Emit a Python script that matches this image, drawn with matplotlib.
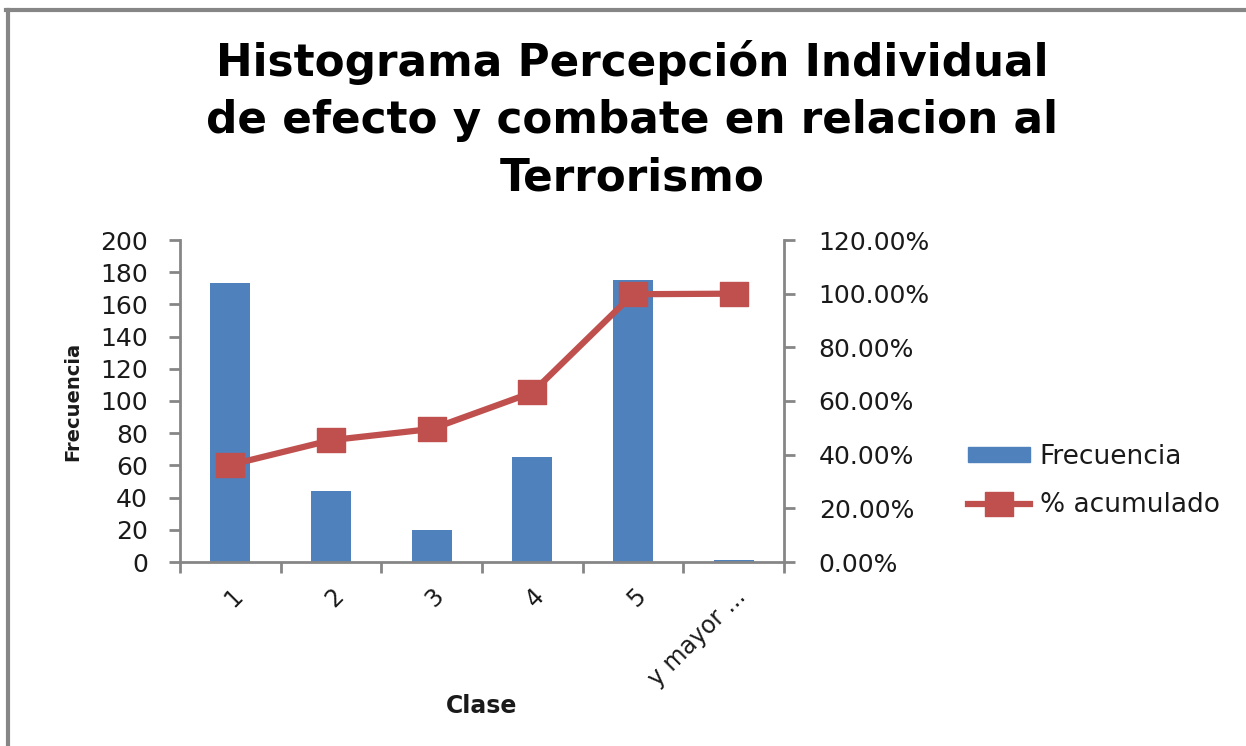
import numpy as np
import matplotlib.pyplot as plt
from matplotlib.lines import Line2D
from matplotlib.path import Path
from matplotlib.ticker import FuncFormatter

#%% data
clases = ['1', '2', '3', '4', '5', 'y mayor ...']
frecuencia = [173, 44, 20, 65, 175, 1]
acumulado = [0.3619, 0.4540, 0.4958, 0.6318, 0.9979, 1.0]

blue = '#4f81bd'
red = '#c0504d'
grey = '#868686'
txt = '#1a1a1a'

# slightly wide square marker, like the Excel one
box = Path([(-1.2, -1), (1.2, -1), (1.2, 1), (-1.2, 1), (-1.2, -1)],
           [Path.MOVETO, Path.LINETO, Path.LINETO, Path.LINETO, Path.CLOSEPOLY])

W, H = 1246, 746
fig = plt.figure(figsize=(W/100, H/100), dpi=100)
fig.set_facecolor('white')
ax = fig.add_axes([180/W, 1-562/H, (784-180)/W, (562-240)/H])
ax2 = ax.twinx()

x = np.arange(len(clases))
ax.bar(x, frecuencia, width=0.4, color=blue, zorder=2)
ax2.plot(x, acumulado, color=red, lw=4.5, marker=box, ms=20,
         mfc=red, mec=red, zorder=3)

ax.set_xlim(-0.5, len(clases)-0.5)
ax.set_ylim(0, 200)
ax.set_yticks(range(0, 201, 20))
ax2.set_ylim(0, 1.2)
ax2.set_yticks(np.arange(0, 1.21, 0.2))
ax2.yaxis.set_major_formatter(FuncFormatter(lambda v, p: f'{v*100:.2f}%'))

# category ticks between the bars
ax.set_xticks(np.arange(-0.5, len(clases)), minor=False)
ax.set_xticklabels([])
ax.set_xticks(x, minor=True)
ax.set_xticklabels(clases, minor=True, rotation=45, ha='right',
                   rotation_mode='anchor', fontsize=17, color=txt)
ax.tick_params(axis='x', which='minor', length=0, pad=16)
ax.tick_params(axis='x', which='major', length=8, width=2, color=grey)

for a in (ax, ax2):
    for s in a.spines.values():
        s.set_visible(False)
ax.spines['left'].set_visible(True)
ax.spines['bottom'].set_visible(True)
ax2.spines['right'].set_visible(True)
for s in (ax.spines['left'], ax.spines['bottom'], ax2.spines['right']):
    s.set_color(grey)
    s.set_linewidth(2)

ax.tick_params(axis='y', length=8, width=2, color=grey, labelsize=18,
               pad=15, labelcolor=txt)
ax2.tick_params(axis='y', length=8, width=2, color=grey, labelsize=18,
                pad=17, labelcolor=txt)

ax.set_ylabel('Frecuencia', fontsize=14, fontweight='bold', color=txt)
ax.yaxis.set_label_coords(-0.162, 0.5)
ax.set_xlabel('Clase', fontsize=17, fontweight='bold', color=txt)
ax.xaxis.set_label_coords(0.5, -0.41)

fig.text(632/W, 1-120/H, 'Histograma Percepción Individual\nde efecto y combate en relacion al\nTerrorismo',
         ha='center', va='center', fontsize=31.5, fontweight='bold', color='black',
         linespacing=1.42)

handles = [plt.Rectangle((0, 0), 1, 1, color=blue),
           Line2D([], [], color=red, lw=4.5, marker=box, ms=20, mfc=red, mec=red)]
leg = fig.legend(handles, ['Frecuencia', '% acumulado'], loc='center left',
                 bbox_to_anchor=(944/W, 1-481/H), frameon=False,
                 prop={'size': 19}, handlelength=2.35, handleheight=0.5,
                 handletextpad=0.38, labelspacing=0.85)
for t in leg.get_texts():
    t.set_color(txt)

# chart frame
fig.add_artist(Line2D([7.5/W, 7.5/W], [0, 1-10/H], color=grey, lw=3))
fig.add_artist(Line2D([6/W, 1], [1-10/H, 1-10/H], color=grey, lw=3))

fig.savefig('out.png', dpi=100)
